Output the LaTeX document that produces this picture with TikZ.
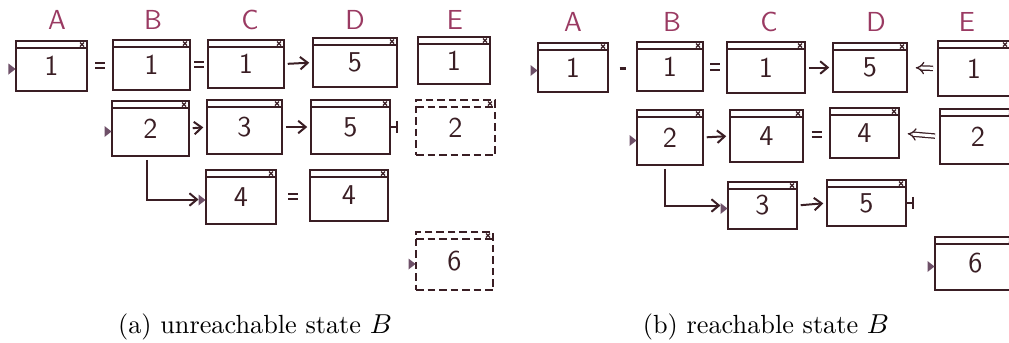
\documentclass[tikz,border=0pt]{standalone}
\usetikzlibrary{arrows.meta,calc}
\definecolor{ink}{HTML}{3A1E24}
\definecolor{lab}{HTML}{9A3A62}
\definecolor{tri}{HTML}{6E5068}
\tikzset{
 winbox/.style={draw=ink,line width=0.95pt,inner sep=0pt,outer sep=0pt,font=\fontsize{11.5}{13}\sffamily,text=ink},
 dashedbox/.style={dash pattern=on 3pt off 1.6pt},
 conn/.style={draw=ink,line width=0.8pt,shorten <=1.5pt,shorten >=1.5pt,-{Straight Barb[length=3pt,width=5pt]}},
 dconn/.style={draw=ink,line width=0.5pt,double=white,double distance=1.2pt,-{Implies},shorten <=2pt,shorten >=3.5pt},
 barconn/.style={draw=ink,line width=0.8pt,-{Bar[width=5pt]}},
 collab/.style={text=lab,font=\fontsize{11}{13}\sffamily},
 capt/.style={font=\fontsize{10.5}{12}\selectfont,text=black}
}
\newcommand\win[7][]{%
 \node[winbox,#1,minimum width={(#5-#3)*0.4pt},minimum height={(#6-#4)*0.4pt}] (#2) at ({(#3+#5)/2},{(#4+#6)/2}) {\raisebox{-1.6pt}{#7}};
 \draw[draw=ink,line width=0.8pt,#1] ([yshift=-2.8pt]#2.north west) -- ([yshift=-2.8pt]#2.north east);
 \draw[draw=ink,line width=0.5pt] ([xshift=-2.8pt,yshift=-0.6pt]#2.north east) -- ++(1.6pt,-1.6pt) ([xshift=-1.2pt,yshift=-0.6pt]#2.north east) -- ++(-1.6pt,-1.6pt);
}
\newcommand\startmark[1]{\fill[tri] ([xshift=-0.2pt,yshift=-1.2pt]#1.west) -- ++(-2.8pt,2.2pt) -- ++(0,-4.4pt) -- cycle;}
\newcommand\eqs[2]{%
 \coordinate (m#1#2) at ($(#1.east)!0.5!(#2.west)$);
 \draw[ink,line width=0.8pt] ([xshift=-2pt,yshift=1.1pt]m#1#2) -- ++(4pt,0) ([xshift=-2pt,yshift=-1.1pt]m#1#2) -- ++(4pt,0);}
\begin{document}
\begin{tikzpicture}[x=0.4pt,y=-0.4pt]
\useasboundingbox (0,0) rectangle (1009,342);
\clip (0,0) rectangle (1009,342);
% ---------- (a) ----------
\node[collab] (LA) at (57,20) {A};
\node[collab] (LB) at (153,20) {B};
\node[collab] (LC) at (250,20) {C};
\node[collab] (LD) at (355,20) {D};
\node[collab] (LE) at (455,20) {E};
\win{La1}{16}{41}{87}{91}{1}
\win{Lb1}{113}{40}{190}{90}{1}
\win{Lc1}{208}{40}{284}{88}{1}
\win{Ld1}{313}{38}{397}{87}{5}
\win{Le1}{418}{37}{490}{84}{1}
\win{Lb2}{112}{101}{189}{156}{2}
\win{Lc2}{207}{100}{282}{154}{3}
\win{Ld2}{311}{100}{390}{154}{5}
\win[dashedbox]{Le2}{416}{100}{495}{155}{2}
\win{Lc3}{206}{170}{276}{224}{4}
\win{Ld3}{310}{170}{388}{221}{4}
\win[dashedbox]{Le4}{416}{232}{493}{290}{6}
\startmark{La1}\startmark{Lb2}\startmark{Lc3}\startmark{Le4}
\eqs{La1}{Lb1}
\eqs{Lb1}{Lc1}
\draw[conn] (Lc1.east) -- (Ld1.west);
\draw[conn] (Lb2.east) -- (Lc2.west);
\draw[conn] (Lc2.east) -- (Ld2.west);
\coordinate (Ld2e) at ([xshift=3pt]Ld2.east);
\draw[barconn] (Ld2.east) -- (Ld2e);
\draw[conn,shorten >=3pt] ([xshift=-1.6pt]Lb2.south) |- ([yshift=-1pt]Lc3.west);
\eqs{Lc3}{Ld3}
\node[capt] (capa) at (255,327) {(a) unreachable state $B$};
% ---------- (b) ----------
\node[collab] (RA) at (573,22) {A};
\node[collab] (RB) at (672,22) {B};
\node[collab] (RC) at (769,22) {C};
\node[collab] (RD) at (876,22) {D};
\node[collab] (RE) at (967,22) {E};
\win{Ra1}{538}{43}{608}{92}{1}
\win{Rb1}{637}{42}{703}{91}{1}
\win{Rc1}{727}{42}{805}{93}{1}
\win{Rd1}{833}{43}{907}{92}{5}
\win{Re1}{938}{41}{1010}{96}{1}
\win{Rb2}{637}{110}{703}{165}{2}
\win{Rc2}{730}{110}{803}{162}{4}
\win{Rd2}{830}{108}{899}{158}{4}
\win{Re2}{940}{109}{1016}{164}{2}
\win{Rc3}{728}{182}{797}{229}{3}
\win{Rd3}{827}{180}{906}{226}{5}
\win{Re4}{935}{237}{1016}{290}{6}
\startmark{Ra1}\startmark{Rb2}\startmark{Rc3}\startmark{Re4}
\coordinate (mRa1Rb1) at ($(Ra1.east)!0.5!(Rb1.west)$);
\draw[ink,line width=1.4pt] ([xshift=-1.2pt,yshift=-0.6pt]mRa1Rb1) -- ++(2.4pt,0);
\eqs{Rb1}{Rc1}
\draw[conn] (Rc1.east) -- (Rd1.west);
\draw[dconn] (Re1.west) -- (Rd1.east);
\draw[conn] (Rb2.east) -- (Rc2.west);
\eqs{Rc2}{Rd2}
\draw[dconn] (Re2.west) -- (Rd2.east);
\draw[conn,shorten >=3pt] ([xshift=-2pt]Rb2.south) |- (Rc3.west);
\draw[conn] (Rc3.east) -- (Rd3.west);
\coordinate (Rd3e) at ([xshift=3pt]Rd3.east);
\draw[barconn] (Rd3.east) -- (Rd3e);
\node[capt] (capb) at (766,327) {(b) reachable state $B$};
\end{tikzpicture}
\end{document}
